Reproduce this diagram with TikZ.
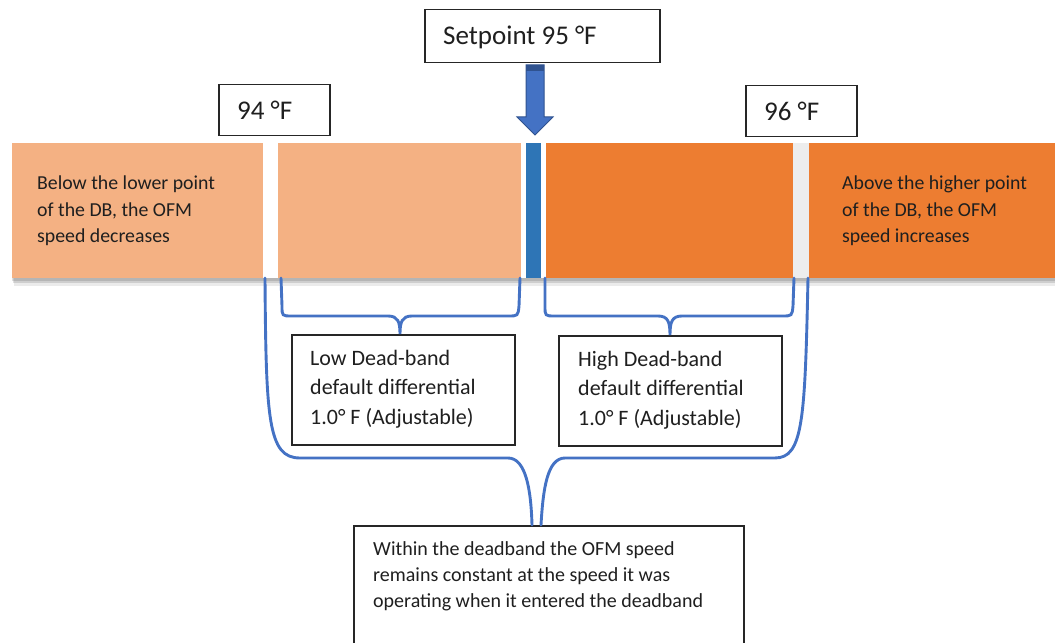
\documentclass[tikz,border=0pt]{standalone}
\usepackage{fontspec}
\setmainfont{Carlito}
\definecolor{lorange}{HTML}{F4B183}
\definecolor{dorange}{HTML}{ED7D31}
\definecolor{spblue}{HTML}{2E75B6}
\definecolor{gapgray}{HTML}{EDEDED}
\definecolor{arrowblue}{HTML}{4472C4}
\definecolor{arrowdark}{HTML}{2F528F}
\definecolor{bracecol}{HTML}{4472C4}
\tikzset{
  box/.style={draw=black!85, line width=1.5bp, fill=white, inner sep=0, anchor=north west},
  txt/.style={inner sep=0, anchor=north west, align=left, text=black!88},
  brace/.style={draw=bracecol, line width=2.9bp, line cap=round},
  bigfont/.style={font=\fontsize{27bp}{32bp}\selectfont},
  barfont/.style={font=\fontsize{19.8bp}{26.5bp}\selectfont},
  dbfont/.style={font=\fontsize{22bp}{29.5bp}\selectfont},
  botfont/.style={font=\fontsize{20bp}{26bp}\selectfont},
}
\begin{document}
\begin{tikzpicture}[x=1bp,y=-1bp]
\useasboundingbox (0,0) rectangle (1055,643);
% bar shadow
\fill[black,opacity=0.08] (14,147) rectangle (1060,286);
\fill[black,opacity=0.12] (13,145) rectangle (1060,283);
\fill[black,opacity=0.12] (12,144) rectangle (1060,280.5);
% bar segments
\fill[lorange] (12,143) rectangle (263,278);
\fill[white] (263,143) rectangle (278,278);
\fill[lorange] (278,143) rectangle (521,278);
\fill[white] (521,143) rectangle (526,278);
\fill[spblue] (526,143) rectangle (541,278);
\fill[white] (541,143) rectangle (546,278);
\fill[dorange] (546,143) rectangle (793,278);
\fill[gapgray] (793,143) rectangle (809,278);
\fill[dorange] (809,143) rectangle (1056,278);
% named points along the bar bottom
\coordinate (lgapL) at (265,278);
\coordinate (lowL) at (281,278);
\coordinate (lowR) at (520,278);
\coordinate (highL) at (545,278);
\coordinate (highR) at (794,278);
\coordinate (hgapR) at (808,278);
% bar texts
\node[txt,barfont] (below) at (37,176) {Below the lower point\\of the DB, the OFM\\speed decreases};
\node[txt,barfont] (above) at (842,176) {Above the higher point\\of the DB, the OFM\\speed increases};
% top boxes
\node[box, minimum width=235bp, minimum height=53bp] (sp) at (424,9) {};
\node[txt,bigfont] (spt) at (443,26) {Setpoint 95 °F};
\node[box, minimum width=111bp, minimum height=51bp] (t94) at (218,84) {};
\node[txt,bigfont] (t94t) at (237,101) {94 °F};
\node[box, minimum width=111bp, minimum height=51bp] (t96) at (745,85) {};
\node[txt,bigfont] (t96t) at (764,102) {96 °F};
% setpoint arrow
\draw[fill=arrowblue, draw=arrowdark, line width=1bp, line join=miter]
  (526,65) -- (544,65) -- (544,117) -- (553,117) -- (535,135) -- (517,117) -- (526,117) -- cycle;
\fill[arrowdark] (526,65) rectangle (544,71);
% dead-band boxes
\node[box, minimum width=223bp, minimum height=110bp] (ldb) at (291,334) {};
\node[txt,dbfont] (ldbt) at (310,350) {Low Dead-band\\default differential\\1.0° F (Adjustable)};
\node[box, minimum width=223bp, minimum height=110bp] (hdb) at (558,335) {};
\node[txt,dbfont] (hdbt) at (578,351) {High Dead-band\\default differential\\1.0° F (Adjustable)};
% bottom box
\node[box, minimum width=390bp, minimum height=140bp] (bot) at (353,525) {};
\node[txt,botfont] (bott) at (373,541) {Within the deadband the OFM speed\\remains constant at the speed it was\\operating when it entered the deadband};
% low brace
\draw[brace] (lowL) -- (282,306) .. controls (282,316) .. (292,316) -- (388,316)
  .. controls (398,316) and (400,322) .. (ldb.north -| 400,0)
  .. controls (400,322) and (402,316) .. (412,316) -- (508,316)
  .. controls (518,316) .. (519,306) -- (lowR);
% high brace
\draw[brace] (highL) -- (545,306) .. controls (545,316) .. (555,316) -- (658,316)
  .. controls (668,316) and (670,322) .. (hdb.north -| 670,0)
  .. controls (670,322) and (672,316) .. (682,316) -- (782,316)
  .. controls (792,316) .. (793,306) -- (highR);
% big brace
\draw[brace] (lgapL) .. controls (266,420) and (268,458) .. (300,458) -- (508,458)
  .. controls (526,458) and (531,490) .. (bot.north -| 532,0);
\draw[brace] (bot.north -| 541,0) .. controls (543,490) and (547,458) .. (565,458) -- (775,458)
  .. controls (803,458) and (805,420) .. (hgapR);
\end{tikzpicture}
\end{document}
